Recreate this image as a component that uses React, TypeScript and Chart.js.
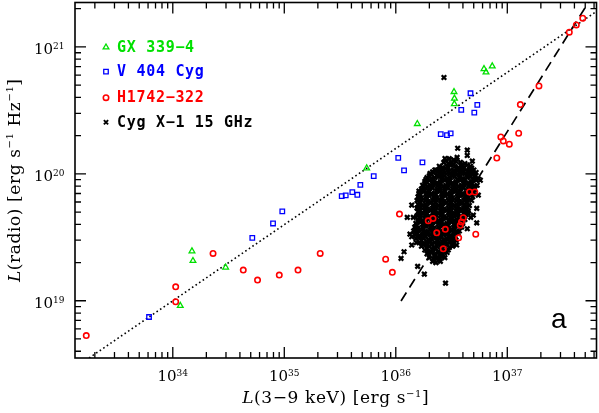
import React, { useEffect, useRef } from "react";
import { Chart, registerables } from "chart.js";
Chart.register(...registerables);

// ---- data (log10 of luminosities) ----
const gxLogLx = [34.067, 34.172, 34.181, 34.474, 35.739, 36.193, 36.522, 36.526, 36.525, 36.791, 36.809, 36.865];
const gxLogLr = [18.961, 19.391, 19.315, 19.263, 20.045, 20.394, 20.646, 20.594, 20.551, 20.827, 20.801, 20.848];

const v404LogLx = [33.787, 34.713, 34.899, 34.982, 35.515, 35.551, 35.610, 35.655, 35.682, 35.802, 36.022, 36.074, 36.239, 36.403, 36.459, 36.492, 36.587, 36.670, 36.704, 36.731];
const v404LogLr = [18.872, 19.496, 19.609, 19.704, 19.824, 19.830, 19.856, 19.835, 19.913, 19.982, 20.126, 20.027, 20.090, 20.313, 20.305, 20.319, 20.504, 20.635, 20.483, 20.543];

const h1742LogLx = [33.224, 34.026, 34.026, 34.361, 34.632, 34.760, 34.955, 35.123, 35.322, 35.909, 35.969, 36.033, 36.291, 36.334, 36.367, 36.444, 36.426, 36.564, 36.578, 36.589, 36.605, 36.717, 36.661, 36.709, 36.906, 36.942, 36.964, 37.018, 37.102, 37.117, 37.284, 37.556, 37.619, 37.677];
const h1742LogLr = [18.726, 19.110, 18.992, 19.373, 19.242, 19.163, 19.202, 19.242, 19.373, 19.328, 19.224, 19.683, 19.630, 19.649, 19.535, 19.563, 19.409, 19.496, 19.594, 19.620, 19.655, 19.525, 19.857, 19.857, 20.125, 20.291, 20.259, 20.234, 20.320, 20.546, 20.693, 21.116, 21.173, 21.226];

// Cyg X-1 15 GHz: scattered points around the cloud
const cygOutliers: [number, number][] = [
  [36.432,20.759],[36.555,20.202],[36.641,20.187],[36.641,20.145],[36.441,20.121],[36.686,20.100],[36.663,20.039],[36.686,20.027],
  [36.363,20.029],[36.277,19.937],[36.307,20.003],[36.208,19.864],[36.202,19.817],[36.726,19.728],[36.672,19.657],[36.726,19.614],
  [36.641,19.567],[36.540,19.478],[36.546,19.439],[36.516,19.452],[36.143,19.754],[36.103,19.657],[36.157,19.657],[36.143,19.504],
  [36.143,19.439],[36.184,19.457],[36.074,19.386],[36.047,19.334],[36.196,19.271],[36.256,19.210],[36.367,19.334],[36.390,19.324],
  [36.446,19.139],[36.127,19.525],[36.650,19.706],[36.695,19.675],[36.758,19.950],[36.740,19.832]
];
// Cyg X-1 15 GHz: dense core of the cloud
const cygCore: [number, number][] = [
  [36.48,20.12],[36.52,20.11],[36.55,20.13],
  [36.43,20.09],[36.47,20.08],[36.50,20.09],[36.54,20.10],[36.58,20.09],[36.62,20.08],
  [36.39,20.06],[36.42,20.05],[36.46,20.06],[36.49,20.07],[36.53,20.06],[36.56,20.05],[36.60,20.06],[36.64,20.07],[36.67,20.06],
  [36.35,20.03],[36.38,20.02],[36.42,20.03],[36.45,20.04],[36.49,20.03],[36.52,20.02],[36.56,20.03],[36.59,20.04],[36.63,20.03],[36.66,20.02],[36.70,20.03],
  [36.31,20.00],[36.34,20.01],[36.37,19.99],[36.41,20.00],[36.44,20.01],[36.48,20.00],[36.51,19.99],[36.55,20.00],[36.58,20.01],[36.62,20.00],[36.65,19.99],[36.69,20.00],[36.72,20.01],
  [36.28,19.97],[36.32,19.96],[36.35,19.97],[36.39,19.98],[36.42,19.97],[36.46,19.96],[36.49,19.97],[36.53,19.98],[36.57,19.97],[36.60,19.96],[36.64,19.97],[36.67,19.98],[36.71,19.97],[36.74,19.96],
  [36.26,19.94],[36.30,19.95],[36.33,19.94],[36.37,19.93],[36.40,19.94],[36.44,19.95],[36.47,19.94],[36.51,19.93],[36.54,19.94],[36.58,19.95],[36.61,19.94],[36.65,19.93],[36.68,19.94],[36.72,19.95],
  [36.24,19.91],[36.28,19.90],[36.31,19.91],[36.35,19.92],[36.38,19.91],[36.42,19.90],[36.45,19.91],[36.49,19.92],[36.52,19.91],[36.56,19.90],[36.59,19.91],[36.63,19.92],[36.66,19.91],[36.70,19.90],[36.73,19.91],
  [36.23,19.88],[36.26,19.87],[36.30,19.88],[36.33,19.89],[36.37,19.88],[36.40,19.87],[36.44,19.88],[36.47,19.89],[36.51,19.88],[36.54,19.87],[36.58,19.88],[36.61,19.89],[36.65,19.88],[36.68,19.87],[36.71,19.88],
  [36.21,19.85],[36.25,19.86],[36.28,19.85],[36.32,19.84],[36.35,19.85],[36.39,19.86],[36.42,19.85],[36.46,19.84],[36.49,19.85],[36.53,19.86],[36.56,19.85],[36.60,19.84],[36.63,19.85],[36.67,19.86],[36.70,19.85],
  [36.20,19.82],[36.23,19.81],[36.27,19.82],[36.30,19.83],[36.34,19.82],[36.37,19.81],[36.41,19.82],[36.44,19.83],[36.48,19.82],[36.51,19.81],[36.55,19.82],[36.58,19.83],[36.62,19.82],[36.65,19.81],[36.69,19.82],
  [36.19,19.79],[36.22,19.80],[36.26,19.79],[36.29,19.78],[36.33,19.79],[36.36,19.80],[36.40,19.79],[36.43,19.78],[36.47,19.79],[36.50,19.80],[36.54,19.79],[36.57,19.78],[36.61,19.79],[36.64,19.80],[36.68,19.79],
  [36.20,19.76],[36.24,19.75],[36.27,19.76],[36.31,19.77],[36.34,19.76],[36.38,19.75],[36.41,19.76],[36.45,19.77],[36.48,19.76],[36.52,19.75],[36.55,19.76],[36.59,19.77],[36.62,19.76],[36.66,19.75],
  [36.19,19.73],[36.22,19.74],[36.26,19.73],[36.29,19.72],[36.33,19.73],[36.36,19.74],[36.40,19.73],[36.43,19.72],[36.47,19.73],[36.50,19.74],[36.54,19.73],[36.57,19.72],[36.61,19.73],[36.64,19.74],
  [36.20,19.70],[36.24,19.69],[36.27,19.70],[36.31,19.71],[36.34,19.70],[36.38,19.69],[36.41,19.70],[36.45,19.71],[36.48,19.70],[36.52,19.69],[36.55,19.70],[36.59,19.71],[36.62,19.70],[36.65,19.69],
  [36.19,19.67],[36.22,19.68],[36.26,19.67],[36.29,19.66],[36.33,19.67],[36.36,19.68],[36.40,19.67],[36.43,19.66],[36.47,19.67],[36.50,19.68],[36.54,19.67],[36.57,19.66],[36.61,19.67],[36.63,19.68],
  [36.20,19.64],[36.24,19.63],[36.27,19.64],[36.31,19.65],[36.34,19.64],[36.38,19.63],[36.41,19.64],[36.45,19.65],[36.48,19.64],[36.52,19.63],[36.55,19.64],[36.59,19.65],[36.62,19.64],
  [36.18,19.61],[36.22,19.62],[36.25,19.61],[36.29,19.60],[36.32,19.61],[36.36,19.62],[36.39,19.61],[36.43,19.60],[36.46,19.61],[36.50,19.62],[36.53,19.61],[36.57,19.60],[36.60,19.61],
  [36.17,19.58],[36.20,19.57],[36.24,19.58],[36.27,19.59],[36.31,19.58],[36.34,19.57],[36.38,19.58],[36.41,19.59],[36.45,19.58],[36.48,19.57],[36.52,19.58],[36.55,19.59],[36.59,19.58],
  [36.16,19.55],[36.19,19.56],[36.22,19.55],[36.26,19.54],[36.29,19.55],[36.33,19.56],[36.36,19.55],[36.40,19.54],[36.43,19.55],[36.47,19.56],[36.50,19.55],[36.54,19.54],[36.57,19.55],
  [36.17,19.52],[36.21,19.51],[36.24,19.52],[36.28,19.53],[36.31,19.52],[36.35,19.51],[36.38,19.52],[36.42,19.53],[36.45,19.52],[36.49,19.51],[36.52,19.52],[36.56,19.53],
  [36.18,19.49],[36.22,19.50],[36.25,19.49],[36.29,19.48],[36.32,19.49],[36.36,19.50],[36.39,19.49],[36.43,19.48],[36.46,19.49],[36.50,19.50],[36.53,19.49],
  [36.21,19.46],[36.24,19.45],[36.28,19.46],[36.31,19.47],[36.35,19.46],[36.38,19.45],[36.42,19.46],[36.45,19.47],[36.49,19.46],[36.52,19.45],
  [36.23,19.43],[36.27,19.44],[36.30,19.43],[36.34,19.42],[36.37,19.43],[36.41,19.44],[36.44,19.43],[36.48,19.42],[36.51,19.43],
  [36.26,19.40],[36.29,19.39],[36.33,19.40],[36.36,19.41],[36.40,19.40],[36.43,19.39],[36.47,19.40],
  [36.28,19.37],[36.32,19.38],[36.35,19.37],[36.39,19.36],[36.42,19.37],[36.46,19.38],
  [36.30,19.34],[36.34,19.33],[36.37,19.34],[36.41,19.35],[36.44,19.34],
  [36.33,19.31],[36.36,19.30],[36.40,19.31]
];
// Cyg X-1 15 GHz: extra points read between the rows of the densest part
const cygCoreInner: [number, number][] = [
  [36.45,20.105],[36.52,20.075],[36.59,20.065],[36.40,20.045],[36.47,20.045],[36.54,20.045],[36.61,20.045],[36.68,20.045],
  [36.33,20.015],[36.40,20.015],[36.47,20.015],[36.53,20.015],[36.60,20.015],[36.67,20.015],[36.71,19.985],
  [36.30,19.985],[36.37,19.985],[36.44,19.985],[36.51,19.985],[36.58,19.985],[36.65,19.985],
  [36.27,19.955],[36.34,19.955],[36.41,19.955],[36.48,19.955],[36.55,19.955],[36.62,19.955],[36.69,19.955],
  [36.26,19.925],[36.33,19.925],[36.40,19.925],[36.47,19.925],[36.54,19.925],[36.61,19.925],[36.68,19.925],
  [36.25,19.895],[36.32,19.895],[36.39,19.895],[36.46,19.895],[36.53,19.895],[36.60,19.895],[36.67,19.895],
  [36.23,19.865],[36.30,19.865],[36.37,19.865],[36.44,19.865],[36.51,19.865],[36.58,19.865],[36.65,19.865],
  [36.22,19.835],[36.29,19.835],[36.36,19.835],[36.43,19.835],[36.50,19.835],[36.57,19.835],[36.64,19.835],
  [36.21,19.805],[36.28,19.805],[36.35,19.805],[36.42,19.805],[36.49,19.805],[36.56,19.805],[36.63,19.805],
  [36.22,19.775],[36.29,19.775],[36.36,19.775],[36.43,19.775],[36.50,19.775],[36.57,19.775],[36.64,19.775],
  [36.21,19.745],[36.28,19.745],[36.35,19.745],[36.42,19.745],[36.49,19.745],[36.56,19.745],[36.63,19.745],
  [36.22,19.715],[36.29,19.715],[36.36,19.715],[36.43,19.715],[36.50,19.715],[36.57,19.715],[36.62,19.715],
  [36.21,19.685],[36.28,19.685],[36.35,19.685],[36.42,19.685],[36.49,19.685],[36.56,19.685],[36.61,19.685],
  [36.22,19.655],[36.29,19.655],[36.36,19.655],[36.43,19.655],[36.50,19.655],[36.57,19.655],
  [36.20,19.625],[36.27,19.625],[36.34,19.625],[36.41,19.625],[36.48,19.625],[36.55,19.625],[36.60,19.625],
  [36.19,19.595],[36.26,19.595],[36.33,19.595],[36.40,19.595],[36.47,19.595],[36.54,19.595],
  [36.18,19.565],[36.25,19.565],[36.32,19.565],[36.39,19.565],[36.46,19.565],[36.53,19.565],
  [36.19,19.535],[36.26,19.535],[36.33,19.535],[36.40,19.535],[36.47,19.535],[36.54,19.535],
  [36.20,19.505],[36.27,19.505],[36.34,19.505],[36.41,19.505],[36.48,19.505],
  [36.23,19.475],[36.30,19.475],[36.37,19.475],[36.44,19.475],[36.50,19.475],
  [36.25,19.445],[36.32,19.445],[36.39,19.445],[36.46,19.445],
  [36.28,19.415],[36.35,19.415],[36.42,19.415],[36.31,19.385],[36.38,19.385],[36.44,19.385],[36.35,19.355],[36.41,19.355]
];

// reference relations: L_R ∝ L_X^0.6 (dotted) and L_R ∝ L_X^1.4 (dashed)
const dottedLogLx = [33.249, 37.80];
const dottedLogLr = [18.549, 21.280];
const dashedLogLx = [36.047, 37.727];
const dashedLogLr = [18.998, 21.350];

const xRangeLog = [33.123, 37.80];
const yRangeLog = [18.549, 21.35];
const xTickExps = [34, 35, 36, 37];
const yTickExps = [19, 20, 21];

const legendLabels = ["GX 339\u22124", "V 404 Cyg", "H1742\u2212322", "Cyg X\u22121 15 GHz"];
const legendColors = ["#00e000", "#0000ff", "#ff0000", "#000000"];
const panelLabel = "a";

const toPts = (lx: number[], ly: number[]) => lx.map((v, i) => ({ x: 10 ** v, y: 10 ** ly[i] }));
const pairPts = (p: [number, number][]) => p.map(([a, b]) => ({ x: 10 ** a, y: 10 ** b }));

const SERIF = '"DejaVu Serif", serif';

type Run = { t: string; font: string; dy?: number };
function runsWidth(ctx: CanvasRenderingContext2D, runs: Run[]) {
  let w = 0;
  for (const r of runs) { ctx.font = r.font; w += ctx.measureText(r.t).width; }
  return w;
}
function drawRuns(ctx: CanvasRenderingContext2D, runs: Run[], x: number, y: number) {
  let cx = x;
  for (const r of runs) {
    ctx.font = r.font;
    ctx.fillText(r.t, cx, y + (r.dy || 0));
    cx += ctx.measureText(r.t).width;
  }
}

function drawSymbol(ctx: CanvasRenderingContext2D, kind: number, x: number, y: number, color: string) {
  ctx.save();
  ctx.strokeStyle = color;
  ctx.beginPath();
  if (kind === 0) {
    const r = 3.3;
    ctx.lineWidth = 1.3;
    for (let k = 0; k < 3; k++) {
      const a = (k * 2 * Math.PI) / 3;
      const px = x + Math.sin(a) * r, py = y - Math.cos(a) * r;
      if (k === 0) ctx.moveTo(px, py); else ctx.lineTo(px, py);
    }
    ctx.closePath();
  } else if (kind === 1) {
    const s = 3.2 * Math.SQRT1_2;
    ctx.lineWidth = 1.3;
    ctx.rect(x - s, y - s, 2 * s, 2 * s);
  } else if (kind === 2) {
    ctx.lineWidth = 1.6;
    ctx.arc(x, y, 2.7, 0, Math.PI * 2);
  } else {
    const o = 3.0 * Math.SQRT1_2;
    ctx.lineWidth = 1.9;
    ctx.moveTo(x - o, y - o); ctx.lineTo(x + o, y + o);
    ctx.moveTo(x + o, y - o); ctx.lineTo(x - o, y + o);
  }
  ctx.stroke();
  ctx.restore();
}

const framePlugin = {
  id: "frameDecor",
  afterDatasetsDraw(chart: any) {
    const { ctx, chartArea: a } = chart;
    const xs = chart.scales.x, ys = chart.scales.y;
    ctx.save();
    ctx.strokeStyle = "#000";
    ctx.fillStyle = "#000";
    // frame
    ctx.lineWidth = 1.6;
    ctx.strokeRect(a.left, a.top, a.right - a.left, a.bottom - a.top);
    // ticks
    ctx.lineWidth = 1.3;
    ctx.beginPath();
    for (let d = 33; d <= 37; d++) {
      for (let m = 1; m <= 9; m++) {
        const v = m * 10 ** d;
        if (v < xs.min || v > xs.max) continue;
        const px = xs.getPixelForValue(v);
        const len = m === 1 ? 11 : 6;
        ctx.moveTo(px, a.bottom); ctx.lineTo(px, a.bottom - len);
        ctx.moveTo(px, a.top); ctx.lineTo(px, a.top + len);
      }
    }
    for (let d = 18; d <= 21; d++) {
      for (let m = 1; m <= 9; m++) {
        const v = m * 10 ** d;
        if (v < ys.min || v > ys.max) continue;
        const py = ys.getPixelForValue(v);
        const len = m === 1 ? 11 : 6;
        ctx.moveTo(a.left, py); ctx.lineTo(a.left + len, py);
        ctx.moveTo(a.right, py); ctx.lineTo(a.right - len, py);
      }
    }
    ctx.stroke();

    // tick labels
    ctx.textBaseline = "alphabetic";
    ctx.textAlign = "left";
    const big = `15px ${SERIF}`, sup = `9px ${SERIF}`;
    for (const e of xTickExps) {
      const px = xs.getPixelForValue(10 ** e);
      const runs: Run[] = [{ t: "10", font: big }, { t: String(e), font: sup, dy: -4.6 }];
      const w = runsWidth(ctx, runs);
      drawRuns(ctx, runs, px - w / 2, a.bottom + 22.5);
    }
    for (const e of yTickExps) {
      const py = ys.getPixelForValue(10 ** e);
      const runs: Run[] = [{ t: "10", font: big }, { t: String(e), font: sup, dy: -4.6 }];
      const w = runsWidth(ctx, runs);
      drawRuns(ctx, runs, a.left - 10.5 - w, py + 7);
    }

    // axis titles
    (ctx as any).letterSpacing = "0.6px";
    const tf = `17px ${SERIF}`, tfi = `italic 17px ${SERIF}`, ts = `10px ${SERIF}`;
    const xTitle: Run[] = [
      { t: "L", font: tfi }, { t: "(3\u22129 keV) [erg s", font: tf },
      { t: "\u22121", font: ts, dy: -6.5 }, { t: "]", font: tf },
    ];
    const xw = runsWidth(ctx, xTitle);
    drawRuns(ctx, xTitle, (a.left + a.right) / 2 - xw / 2, a.bottom + 45);

    const yTitle: Run[] = [
      { t: "L", font: tfi }, { t: "(radio) [erg s", font: tf },
      { t: "\u22121", font: ts, dy: -6.5 }, { t: " Hz", font: tf },
      { t: "\u22121", font: ts, dy: -6.5 }, { t: "]", font: tf },
    ];
    const yw = runsWidth(ctx, yTitle);
    ctx.save();
    ctx.translate(19.5, (a.top + a.bottom) / 2);
    ctx.rotate(-Math.PI / 2);
    drawRuns(ctx, yTitle, -yw / 2, 0);
    ctx.restore();

    // legend
    const rows = [44.8, 69.2, 95.2, 119.8];
    ctx.font = `bold 15px "DejaVu Sans Mono", monospace`;
    (ctx as any).letterSpacing = "0.7px";
    ctx.textBaseline = "middle";
    legendLabels.forEach((lab, i) => {
      const y = a.top + rows[i];
      drawSymbol(ctx, i, a.left + 31, y, legendColors[i]);
      ctx.fillStyle = legendColors[i];
      ctx.fillText(lab, a.left + 42, y + 0.5);
    });
    (ctx as any).letterSpacing = "0px";

    // panel label
    ctx.fillStyle = "#000";
    ctx.textBaseline = "alphabetic";
    ctx.font = `28px "Liberation Sans", Arial, sans-serif`;
    ctx.fillText(panelLabel, a.right - 45.5, a.bottom - 30);
    ctx.restore();
  },
};

export default function App() {
  const ref = useRef<HTMLCanvasElement>(null);
  useEffect(() => {
    const chart = new Chart(ref.current as HTMLCanvasElement, {
      type: "scatter",
      data: {
        datasets: [
          {
            label: "H1742-322",
            data: toPts(h1742LogLx, h1742LogLr),
            pointStyle: "circle",
            pointRadius: 2.7,
            pointBorderWidth: 1.6,
            borderColor: "#ff0000",
            pointBorderColor: "#ff0000",
            backgroundColor: "rgba(0,0,0,0)",
            pointBackgroundColor: "rgba(0,0,0,0)",
          },
          {
            label: "GX 339-4",
            data: toPts(gxLogLx, gxLogLr),
            pointStyle: "triangle",
            pointRadius: 3.3,
            pointBorderWidth: 1.3,
            borderColor: "#00e000",
            pointBorderColor: "#00e000",
            backgroundColor: "rgba(0,0,0,0)",
            pointBackgroundColor: "rgba(0,0,0,0)",
          },
          {
            label: "V 404 Cyg",
            data: toPts(v404LogLx, v404LogLr),
            pointStyle: "rect",
            pointRadius: 3.2,
            pointBorderWidth: 1.3,
            borderColor: "#0000ff",
            pointBorderColor: "#0000ff",
            backgroundColor: "rgba(0,0,0,0)",
            pointBackgroundColor: "rgba(0,0,0,0)",
          },
          {
            label: "Cyg X-1 15 GHz",
            data: [...pairPts(cygCore), ...pairPts(cygCoreInner), ...pairPts(cygOutliers)],
            pointStyle: "crossRot",
            pointRadius: 3.2,
            pointBorderWidth: 2.3,
            borderColor: "#000",
            pointBorderColor: "#000",
          },
          {
            label: "slope 1.4",
            data: toPts(dashedLogLx, dashedLogLr),
            showLine: true,
            pointRadius: 0,
            borderColor: "#000",
            borderWidth: 1.7,
            borderDash: [10, 6],
          },
          {
            label: "slope 0.6",
            data: toPts(dottedLogLx, dottedLogLr),
            showLine: true,
            pointRadius: 0,
            borderColor: "#000",
            borderWidth: 1.6,
            borderDash: [1.6, 2.7],
          },
        ],
      },
      options: {
        responsive: false,
        animation: false,
        devicePixelRatio: 1,
        events: [],
        layout: { padding: { left: 0, right: 2.5, top: 2.5, bottom: 0 }, autoPadding: false },
        plugins: { legend: { display: false }, tooltip: { enabled: false } },
        scales: {
          x: {
            type: "logarithmic",
            min: 10 ** xRangeLog[0],
            max: 10 ** xRangeLog[1],
            ticks: { display: false },
            grid: { display: false },
            border: { display: false },
            afterFit: (s: any) => { s.height = 55; },
          },
          y: {
            type: "logarithmic",
            min: 10 ** yRangeLog[0],
            max: 10 ** yRangeLog[1],
            ticks: { display: false },
            grid: { display: false },
            border: { display: false },
            afterFit: (s: any) => { s.width = 75; },
          },
        },
      } as any,
      plugins: [framePlugin],
    });
    return () => chart.destroy();
  }, []);
  return (
    <div style={{ position: "absolute", left: 0, top: 0, width: 599, height: 413, background: "#fff" }}>
      <canvas ref={ref} width={599} height={413} style={{ display: "block" }} />
    </div>
  );
}
